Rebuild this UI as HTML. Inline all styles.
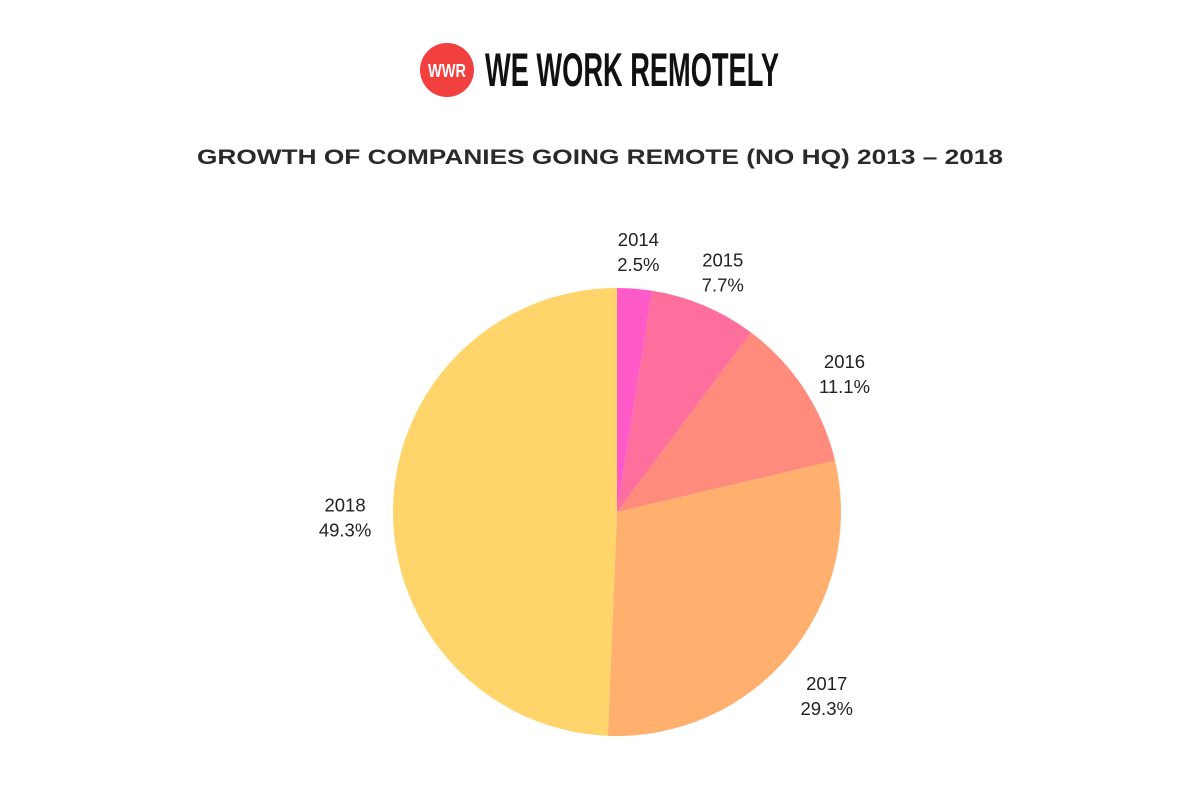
<!DOCTYPE html>
<html><head><meta charset="utf-8"><style>
html,body{margin:0;padding:0;background:#fff;}
svg{display:block;font-family:"Liberation Sans",sans-serif;}
</style></head><body>
<svg id="chart" width="1200" height="800" viewBox="0 0 1200 800">
  <g>
    <circle cx="447" cy="70" r="27" fill="#f2403f"/>
    <text x="447" y="77" text-anchor="middle" font-size="18" font-weight="bold" fill="#fff" textLength="38" lengthAdjust="spacingAndGlyphs">WWR</text>
    <text x="485" y="86" font-family="'Liberation Sans Narrow','Liberation Sans',sans-serif" font-size="47" font-weight="bold" fill="#111" textLength="294" lengthAdjust="spacingAndGlyphs">WE WORK REMOTELY</text>
  </g>
  <text x="600" y="164" text-anchor="middle" font-size="21" font-weight="bold" fill="#2a2a2a" textLength="806" lengthAdjust="spacingAndGlyphs">GROWTH OF COMPANIES GOING REMOTE (NO HQ) 2013 – 2018</text>
  <g id="slices"></g>
  <g id="labels"></g>
</svg>
<script>
const categories = ["2014","2015","2016","2017","2018"];
const values = [2.5, 7.7, 11.1, 29.3, 49.3];
const valueLabels = ["2.5%","7.7%","11.1%","29.3%","49.3%"];
const colors = ["#ff5ac8","#ff6f9e","#ff8b7c","#ffb06e","#fed46b"];
const cx = 617, cy = 512, r = 224, lr = 272;
const NS = "http://www.w3.org/2000/svg";
const total = values.reduce((a,b)=>a+b,0);
const sg = document.getElementById('slices'), lg = document.getElementById('labels');
function pt(a, rad){ return [cx + rad*Math.sin(a), cy - rad*Math.cos(a)]; }
let acc = 0;
values.forEach((v,i)=>{
  const a0 = acc/total*2*Math.PI; acc += v;
  const a1 = acc/total*2*Math.PI;
  const [x0,y0] = pt(a0,r), [x1,y1] = pt(a1,r);
  const large = (a1-a0) > Math.PI ? 1 : 0;
  const p = document.createElementNS(NS,'path');
  p.setAttribute('d', `M${cx},${cy} L${x0},${y0} A${r},${r} 0 ${large} 1 ${x1},${y1} Z`);
  p.setAttribute('fill', colors[i]);
  
  
  sg.appendChild(p);
  const am = (a0+a1)/2;
  const [lx,ly] = pt(am, lr);
  const t = document.createElementNS(NS,'text');
  t.setAttribute('text-anchor','middle');
  t.setAttribute('font-size','18.5');
  t.setAttribute('fill','#222');
  
  
  const s1 = document.createElementNS(NS,'tspan');
  s1.setAttribute('x', lx); s1.setAttribute('y', ly + 5);
  s1.textContent = categories[i];
  const s2 = document.createElementNS(NS,'tspan');
  s2.setAttribute('x', lx); s2.setAttribute('y', ly + 30);
  s2.textContent = valueLabels[i];
  t.appendChild(s1); t.appendChild(s2);
  lg.appendChild(t);
});
</script>
</body></html>
